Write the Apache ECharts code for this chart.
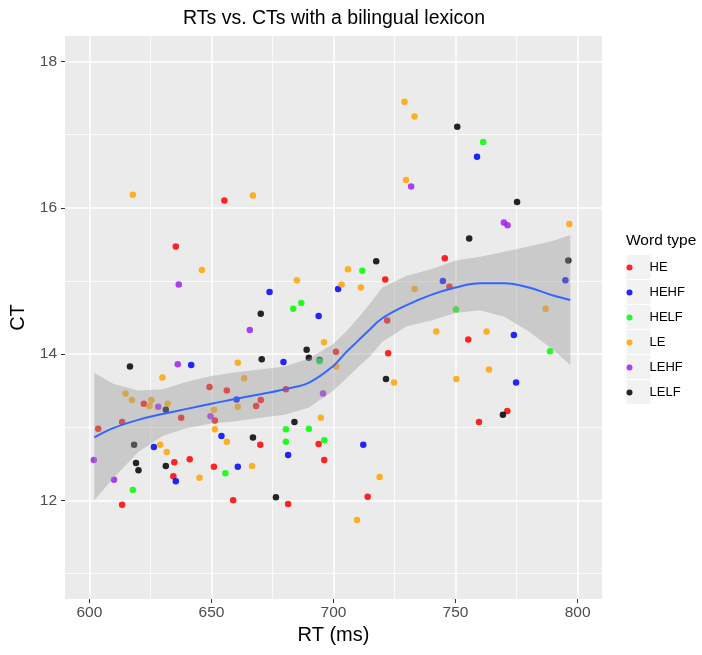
<!DOCTYPE html>
<html>
<head>
<meta charset="utf-8">
<script src="https://cdn.jsdelivr.net/npm/echarts@6/dist/echarts.min.js"></script>
<style>
  body { margin: 0; background: #fff; }
  #chart { width: 702px; height: 655px; }
</style>
</head>
<body>
<div id="chart"></div>
<script>
// word types, in legend order
var wordTypes = ['HE', 'HEHF', 'HELF', 'LE', 'LEHF', 'LELF'];
var typeColors = ['#FF0000', '#0000FF', '#00FF00', '#FFA500', '#A020F0', '#000000'];

// [RT (ms), CT]
var pointsHE = [
  [655.3, 16.10], [635.4, 15.47], [721.2, 15.02], [722.0, 14.46], [701.0, 14.03], [722.4, 14.01],
  [680.5, 13.52], [670.2, 13.37], [745.6, 15.31], [747.5, 14.92], [755.2, 14.20], [649.2, 13.55],
  [656.3, 13.50], [622.3, 13.32], [637.6, 13.13], [603.6, 12.98], [613.4, 13.07], [651.4, 13.09],
  [668.3, 13.29], [670.0, 12.76], [634.8, 12.52], [641.1, 12.56], [634.4, 12.33], [651.0, 12.46],
  [613.4, 11.94], [658.9, 12.00], [693.9, 12.77], [696.2, 12.55], [681.4, 11.95], [714.0, 12.05],
  [759.6, 13.07], [771.2, 13.22]
];
var pointsHEHF = [
  [758.8, 16.70], [641.7, 13.85], [701.9, 14.89], [673.8, 14.85], [693.9, 14.52], [679.5, 13.89],
  [694.3, 13.92], [744.8, 15.00], [795.0, 15.01], [773.9, 14.26], [774.8, 13.61], [660.3, 13.38],
  [654.1, 12.88], [626.4, 12.73], [635.4, 12.26], [660.8, 12.46], [712.2, 12.76], [681.4, 12.62]
];
var pointsHELF = [
  [761.3, 16.90], [711.8, 15.14], [686.8, 14.70], [683.5, 14.62], [694.3, 13.90], [750.2, 14.61],
  [788.7, 14.04], [655.7, 12.37], [617.8, 12.14], [680.5, 12.97], [689.9, 12.98], [680.5, 12.80],
  [696.2, 12.82]
];
var pointsLE = [
  [617.8, 16.18], [667.0, 16.17], [729.1, 17.45], [733.2, 17.25], [729.7, 16.38], [796.6, 15.78],
  [646.1, 15.15], [660.8, 13.88], [629.9, 13.68], [663.4, 13.67], [614.8, 13.46], [705.9, 15.16],
  [685.0, 15.01], [703.3, 14.95], [711.2, 14.91], [733.2, 14.89], [696.1, 14.16], [701.1, 13.83],
  [724.8, 13.61], [786.9, 14.62], [742.1, 14.31], [762.7, 14.31], [763.7, 13.79], [750.3, 13.66],
  [617.4, 13.37], [625.4, 13.37], [624.6, 13.29], [632.1, 13.32], [651.0, 13.24], [660.8, 13.28],
  [651.4, 12.97], [656.3, 12.80], [629.0, 12.76], [631.7, 12.66], [645.1, 12.31], [666.6, 12.47],
  [694.8, 13.13], [718.9, 12.32], [709.6, 11.73]
];
var pointsLEHF = [
  [731.8, 16.29], [769.8, 15.80], [771.3, 15.76], [636.6, 14.95], [665.7, 14.33], [636.2, 13.86],
  [695.7, 13.46], [628.2, 13.28], [649.6, 13.15], [601.8, 12.55], [610.1, 12.28]
];
var pointsLELF = [
  [750.7, 17.11], [775.2, 16.08], [755.6, 15.58], [670.2, 14.55], [616.6, 13.83], [717.5, 15.27],
  [689.0, 14.06], [689.9, 13.95], [670.6, 13.93], [721.5, 13.66], [796.2, 15.28], [631.3, 13.24],
  [667.0, 12.86], [618.3, 12.76], [619.1, 12.51], [620.1, 12.41], [631.3, 12.47], [684.0, 13.07],
  [676.4, 12.04], [769.4, 13.17]
];
var pointsByType = [pointsHE, pointsHEHF, pointsHELF, pointsLE, pointsLEHF, pointsLELF];

// loess fit and its confidence band
var smoothX     = [602, 610, 620, 630, 640, 650, 660, 670, 680, 690, 700, 705, 710, 715, 720, 730, 740, 750, 760, 770, 780, 790, 797];
var smoothY     = [12.86, 12.99, 13.10, 13.18, 13.25, 13.32, 13.39, 13.45, 13.52, 13.61, 13.84, 14.02, 14.18, 14.34, 14.49, 14.67, 14.81, 14.91, 14.97, 14.97, 14.91, 14.80, 14.74];
var bandUpper   = [13.74, 13.59, 13.50, 13.52, 13.62, 13.70, 13.75, 13.79, 13.83, 13.94, 14.14, 14.30, 14.49, 14.69, 14.91, 15.07, 15.16, 15.28, 15.33, 15.40, 15.47, 15.55, 15.63];
var bandLower   = [12.00, 12.31, 12.66, 12.88, 12.99, 13.05, 13.08, 13.13, 13.17, 13.27, 13.50, 13.66, 13.82, 13.97, 14.17, 14.38, 14.46, 14.56, 14.60, 14.51, 14.31, 14.06, 13.85];

// tick labels
var xMajor = [600, 650, 700, 750, 800];
var xMinor = [625, 675, 725, 775];
var yMajor = [12, 14, 16, 18];
var yMinor = [11, 13, 15, 17];

var FONT = '"Liberation Sans", Arial, sans-serif';

var chart = echarts.init(document.getElementById('chart'), null, { renderer: 'canvas' });

var series = [];
wordTypes.forEach(function (t, i) {
  series.push({
    name: t,
    type: 'scatter',
    data: pointsByType[i],
    symbolSize: 6.5,
    itemStyle: { color: typeColors[i], opacity: 0.85 },
    emphasis: { disabled: true },
    z: 2
  });
});

series.push({
  name: 'band',
  type: 'custom',
  data: smoothX.map(function (x, i) { return [x, bandLower[i], bandUpper[i]]; }),
  encode: { x: 0, y: [1, 2] },
  renderItem: function (params, api) {
    if (params.dataIndex !== 0) return;
    var pts = [];
    for (var i = 0; i < smoothX.length; i++) pts.push(api.coord([smoothX[i], bandUpper[i]]));
    for (var j = smoothX.length - 1; j >= 0; j--) pts.push(api.coord([smoothX[j], bandLower[j]]));
    return { type: 'polygon', shape: { points: pts }, style: { fill: 'rgba(153,153,153,0.4)' } };
  },
  silent: true,
  z: 3
});

series.push({
  name: 'fit',
  type: 'line',
  data: smoothX.map(function (x, i) { return [x, smoothY[i]]; }),
  showSymbol: false,
  smooth: 0.4,
  lineStyle: { color: '#3366FF', width: 2 },
  silent: true,
  z: 4
});

var keyBoxes = wordTypes.map(function (t, i) {
  return {
    type: 'rect',
    left: 626.5,
    top: 255 + i * 25,
    shape: { width: 24, height: 24 },
    style: { fill: '#F2F2F2' },
    z: 0
  };
});

chart.setOption({
  animation: false,
  backgroundColor: '#ffffff',
  title: [{
    text: 'RTs vs. CTs with a bilingual lexicon',
    left: 334, top: 9, textAlign: 'center', padding: 0,
    textStyle: { fontFamily: FONT, fontSize: 19.5, fontWeight: 'normal', color: '#000' }
  }, {
    text: 'Word type',
    left: 626, top: 233, padding: 0,
    textStyle: { fontFamily: FONT, fontSize: 15.5, fontWeight: 'normal', color: '#000' }
  }],
  legend: {
    data: wordTypes,
    orient: 'vertical',
    left: 626.5, top: 255,
    padding: 0,
    itemGap: 0,
    itemWidth: 24, itemHeight: 6,
    icon: 'circle',
    selectedMode: false,
    textStyle: { fontFamily: FONT, fontSize: 13, color: '#000', lineHeight: 25, padding: [0, 0, 0, 3] }
  },
  graphic: keyBoxes,
  grid: { left: 65, right: 100, top: 36, bottom: 56, backgroundColor: '#EBEBEB', show: true, borderWidth: 0 },
  xAxis: [{
    type: 'value', min: 590, max: 810,
    name: 'RT (ms)', nameLocation: 'middle', nameGap: 25,
    nameTextStyle: { fontFamily: FONT, fontSize: 20, color: '#000' },
    axisLine: { show: false },
    axisTick: { show: true, length: 4, customValues: xMajor, lineStyle: { color: '#333', width: 1 } },
    axisLabel: { customValues: xMajor, margin: 6, fontFamily: FONT, fontSize: 15.5, color: '#4D4D4D' },
    splitLine: { show: true, lineStyle: { color: '#fff', width: 1.5 } }
  }, {
    type: 'value', min: 590, max: 810, position: 'bottom',
    axisLine: { show: false },
    axisTick: { show: false, customValues: xMinor },
    axisLabel: { show: false, customValues: xMinor },
    splitLine: { show: true, lineStyle: { color: '#fff', width: 0.8 } }
  }],
  yAxis: [{
    type: 'value', min: 10.65, max: 18.35,
    name: 'CT', nameLocation: 'middle', nameGap: 31,
    nameTextStyle: { fontFamily: FONT, fontSize: 20, color: '#000' },
    axisLine: { show: false },
    axisTick: { show: true, length: 4, customValues: yMajor, lineStyle: { color: '#333', width: 1 } },
    axisLabel: { customValues: yMajor, margin: 8, fontFamily: FONT, fontSize: 15.5, color: '#4D4D4D' },
    splitLine: { show: true, lineStyle: { color: '#fff', width: 1.5 } }
  }, {
    type: 'value', min: 10.65, max: 18.35, position: 'left',
    axisLine: { show: false },
    axisTick: { show: false, customValues: yMinor },
    axisLabel: { show: false, customValues: yMinor },
    splitLine: { show: true, lineStyle: { color: '#fff', width: 0.8 } }
  }],
  series: series
});
</script>
</body>
</html>
